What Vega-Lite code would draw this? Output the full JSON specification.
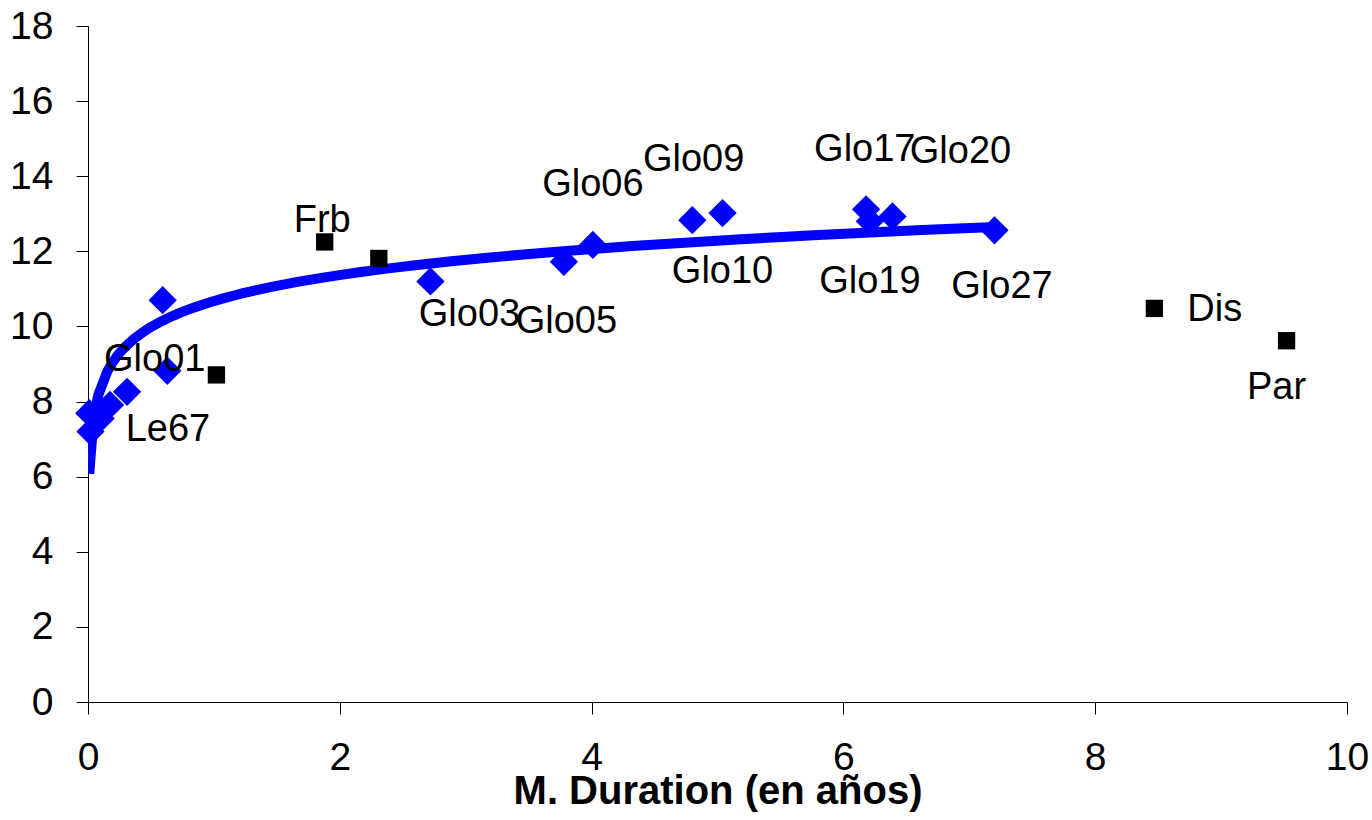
{
  "$schema": "https://vega.github.io/schema/vega-lite/v6.json",
  "width": 1259,
  "height": 676,
  "autosize": {"type": "none"},
  "padding": {"left": 88, "top": 26, "right": 25, "bottom": 118},
  "background": "white",
  "config": {
    "view": {"stroke": null},
    "font": "Liberation Sans",
    "axis": {"grid": false, "domainColor": "black", "tickColor": "black", "labelColor": "black", "titleColor": "black", "labelFont": "Liberation Sans", "titleFont": "Liberation Sans"}
  },
  "datasets": {
    "glo": [
      {"x": 0.01, "y": 7.69}, {"x": 0.02, "y": 7.2}, {"x": 0.1, "y": 7.55}, {"x": 0.175, "y": 7.91},
      {"x": 0.31, "y": 8.26}, {"x": 0.63, "y": 8.82}, {"x": 0.593, "y": 10.7}, {"x": 2.72, "y": 11.2},
      {"x": 3.78, "y": 11.72}, {"x": 4.01, "y": 12.17}, {"x": 4.8, "y": 12.83}, {"x": 5.04, "y": 13.02},
      {"x": 6.18, "y": 13.12}, {"x": 6.21, "y": 12.8}, {"x": 6.39, "y": 12.93}, {"x": 7.2, "y": 12.56}
    ],
    "other": [
      {"x": 1.88, "y": 12.25}, {"x": 2.31, "y": 11.81}, {"x": 1.02, "y": 8.71}, {"x": 8.47, "y": 10.48}, {"x": 9.52, "y": 9.62}
    ],
    "labels": [
      {"t": "Frb", "x": 1.86, "y": 12.81}, {"t": "Glo01", "x": 0.53, "y": 9.11}, {"t": "Le67", "x": 0.635, "y": 7.24},
      {"t": "Glo03", "x": 3.03, "y": 10.3}, {"t": "Glo05", "x": 3.8, "y": 10.12}, {"t": "Glo06", "x": 4.01, "y": 13.76},
      {"t": "Glo09", "x": 4.81, "y": 14.43}, {"t": "Glo10", "x": 5.04, "y": 11.45}, {"t": "Glo17", "x": 6.17, "y": 14.7},
      {"t": "Glo20", "x": 6.93, "y": 14.64}, {"t": "Glo19", "x": 6.21, "y": 11.18}, {"t": "Glo27", "x": 7.26, "y": 11.05},
      {"t": "Dis", "x": 8.95, "y": 10.44}, {"t": "Par", "x": 9.44, "y": 8.36}
    ]
  },
  "layer": [
    {
      "data": {"name": "glo"},
      "transform": [{"regression": "y", "on": "x", "method": "log", "extent": [0.01, 7.2]}],
      "mark": {"type": "line", "color": "#0000FF", "strokeWidth": 10, "clip": true},
      "encoding": {
        "x": {"field": "x", "type": "quantitative", "scale": {"domain": [0, 10]},
          "axis": {"values": [0, 2, 4, 6, 8, 10], "format": "d", "labelFlush": false, "tickSize": 12, "labelFontSize": 39, "labelPadding": 24, "title": "M. Duration (en años)", "titleFontSize": 40, "titleFontWeight": "bold", "titlePadding": -6}},
        "y": {"field": "y", "type": "quantitative", "scale": {"domain": [0, 18]},
          "axis": {"values": [0, 2, 4, 6, 8, 10, 12, 14, 16, 18], "format": "d", "labelFlush": false, "tickSize": 12, "labelFontSize": 39, "labelPadding": 23, "title": null}}
      }
    },
    {
      "data": {"name": "glo"},
      "mark": {"type": "point", "shape": "diamond", "filled": true, "color": "#0000FF", "opacity": 1, "size": 800},
      "encoding": {"x": {"field": "x", "type": "quantitative"}, "y": {"field": "y", "type": "quantitative"}}
    },
    {
      "data": {"name": "other"},
      "mark": {"type": "point", "shape": "square", "filled": true, "color": "black", "opacity": 1, "size": 300},
      "encoding": {"x": {"field": "x", "type": "quantitative"}, "y": {"field": "y", "type": "quantitative"}}
    },
    {
      "data": {"name": "labels"},
      "mark": {"type": "text", "fontSize": 38, "font": "Liberation Sans", "color": "black", "align": "center", "baseline": "middle"},
      "encoding": {"x": {"field": "x", "type": "quantitative"}, "y": {"field": "y", "type": "quantitative"}, "text": {"field": "t"}}
    }
  ]
}
